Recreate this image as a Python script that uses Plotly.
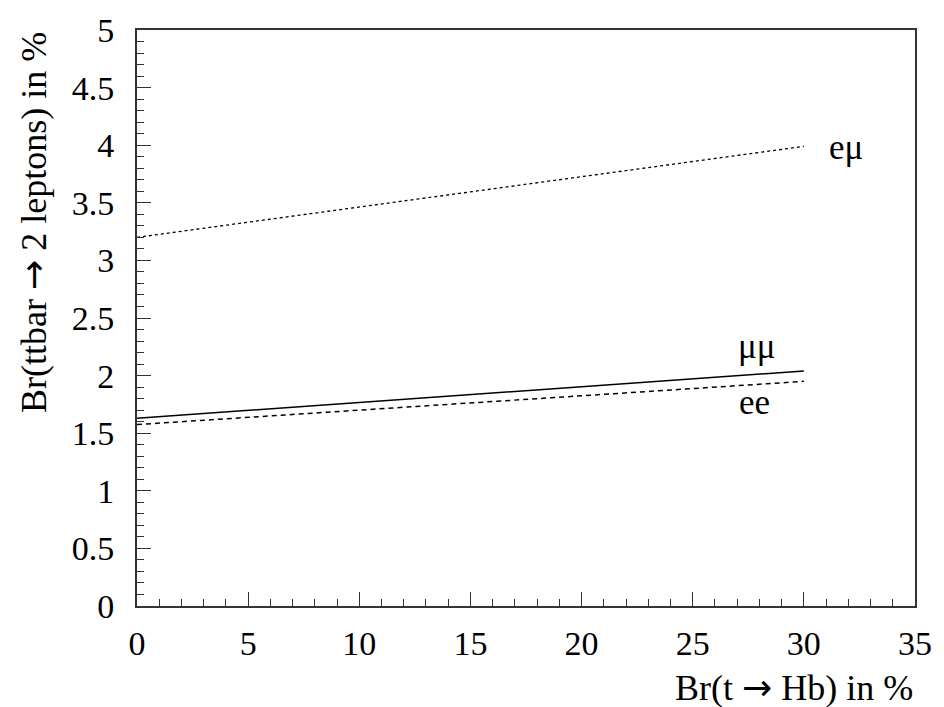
import plotly.graph_objects as go

# Data
br_thb = [0, 30]                 # Br(t -> Hb) in %
emu = [3.20, 3.99]
mumu = [1.63, 2.04]
ee = [1.575, 1.95]

labels = ["eμ", "μμ", "ee"]
label_x = [31.9, 27.9, 27.8]
label_y = [3.98, 2.25, 1.77]

x_ticks = [0, 5, 10, 15, 20, 25, 30, 35]
y_ticks = [0, 0.5, 1, 1.5, 2, 2.5, 3, 3.5, 4, 4.5, 5]
y_ticktext = ["0", "0.5", "1", "1.5", "2", "2.5", "3", "3.5", "4", "4.5", "5"]

FONT = "Liberation Serif"
AX = "#333333"
ARROW = '<span style="font-family:DejaVu Sans">→</span>'

fig = go.Figure()
fig.add_trace(go.Scatter(x=br_thb, y=emu, mode="lines",
                         line=dict(color="black", width=1.3, dash="dot")))
fig.add_trace(go.Scatter(x=br_thb, y=mumu, mode="lines",
                         line=dict(color="black", width=1.5, dash="solid")))
fig.add_trace(go.Scatter(x=br_thb, y=ee, mode="lines",
                         line=dict(color="black", width=1.5, dash="5px,4px")))

for t, xx, yy in zip(labels, label_x, label_y):
    fig.add_annotation(x=xx, y=yy, text=t, showarrow=False,
                       font=dict(family=FONT, size=35, color="black"),
                       xanchor="center", yanchor="middle")

fig.add_annotation(xref="paper", yref="paper", x=1.0, y=-0.142,
                   text="Br(t " + ARROW + " Hb) in %", showarrow=False,
                   xanchor="right", yanchor="middle",
                   font=dict(family=FONT, size=36, color="black"))
fig.add_annotation(xref="paper", yref="paper", x=-0.162, y=1.0,
                   text="Br(ttbar " + ARROW + " 2 leptons) in %", showarrow=False,
                   textangle=-90, xanchor="left", yanchor="top",
                   font=dict(family=FONT, size=36, color="black"))

fig.update_layout(
    width=944, height=707,
    margin=dict(l=137, r=22, t=27, b=101),
    paper_bgcolor="white", plot_bgcolor="white",
    showlegend=False,
    font=dict(family=FONT, size=32, color="black"),
)
fig.update_xaxes(range=[0, 35], tickvals=x_ticks, ticks="inside", ticklen=14,
                 tickwidth=1, tickcolor=AX, showline=True, linecolor=AX,
                 linewidth=2, mirror=True, showgrid=False, zeroline=False,
                 minor=dict(dtick=1, ticks="inside", ticklen=7, tickcolor=AX,
                            tickwidth=1, showgrid=False),
                 tickfont=dict(family=FONT, size=34, color="black"),
                 ticklabelstandoff=6)
fig.update_yaxes(range=[0, 5], tickvals=y_ticks, ticktext=y_ticktext,
                 ticks="inside", ticklen=14,
                 tickwidth=1, tickcolor=AX, showline=True, linecolor=AX,
                 linewidth=2, mirror=True, showgrid=False, zeroline=False,
                 minor=dict(dtick=0.1, ticks="inside", ticklen=7, tickcolor=AX,
                            tickwidth=1, showgrid=False),
                 tickfont=dict(family=FONT, size=34, color="black"),
                 ticklabelstandoff=14)

fig.write_html("out.html")
